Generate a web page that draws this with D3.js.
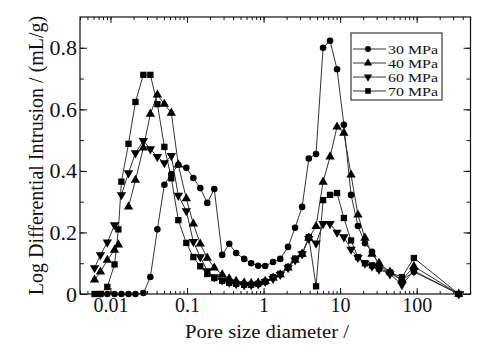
<!DOCTYPE html>
<html>
<head>
<meta charset="utf-8">
<script src="https://cdn.jsdelivr.net/npm/d3@7"></script>
<style>
  html, body { margin: 0; padding: 0; background: #fff; }
  svg { display: block; }
  svg text { font-family: "Liberation Serif", "DejaVu Serif", serif; fill: #111; }
</style>
</head>
<body>
<svg id="chart" width="500" height="349"></svg>
<script>
// Pore size diameters (µm) shared by all series
const poreSize = [0.0062, 0.0074, 0.0091, 0.0113, 0.0127, 0.0139, 0.0172, 0.0212, 0.0269, 0.0332,
  0.0410, 0.0506, 0.0624, 0.0770, 0.0979, 0.121, 0.149, 0.184, 0.227, 0.288,
  0.356, 0.439, 0.558, 0.689, 0.851, 1.05, 1.33, 1.65, 2.09, 2.58,
  3.19, 3.90, 4.85, 5.99, 7.39, 9.12, 11.2, 13.9, 17.1, 21.1,
  26.1, 32.2, 44.8, 64.2, 92.0, 355];

// Log differential intrusion (mL/g) per compaction pressure; null = no measurement
const mpa30 = [null, 0, 0, 0, null, 0, 0, 0, 0.003, 0.055,
  0.21, 0.355, 0.39, 0.42, 0.41, 0.377, 0.344, 0.296, 0.341, 0.127,
  0.163, 0.133, 0.114, 0.10, 0.092, 0.091, 0.104, 0.114, 0.153, 0.215,
  0.283, 0.44, 0.455, 0.80, 0.823, 0.73, 0.55, 0.322, 0.221, 0.165,
  0.137, 0.095, 0.068, 0.045, 0.072, 0];
const mpa40 = [0.046, 0.072, 0.11, 0.143, 0.16, null, 0.283, 0.37, 0.475, 0.585,
  0.647, 0.617, 0.588, 0.42, 0.31, 0.228, 0.163, 0.117, 0.085, 0.063,
  0.05, 0.042, 0.037, 0.035, 0.036, 0.042, 0.052, 0.063, 0.085, 0.11,
  0.13, 0.182, 0.22, 0.364, 0.446, 0.543, 0.523, 0.387, 0.257, 0.182,
  0.13, 0.10, 0.072, 0.045, 0.09, 0];
const mpa60 = [0.085, 0.127, 0.168, 0.224, null, 0.322, 0.393, 0.458, 0.498, 0.471,
  0.446, 0.426, 0.449, 0.32, 0.27, 0.17, 0.12, 0.075, 0.055, 0.045,
  0.038, 0.033, 0.03, 0.03, 0.032, 0.04, 0.05, 0.063, 0.085, 0.11,
  0.13, 0.18, 0.165, 0.228, 0.228, 0.20, 0.185, 0.145, 0.118, 0.10,
  0.09, 0.08, 0.065, 0.03, 0.075, 0];
const mpa70 = [0, 0, 0.023, 0.096, 0.21, 0.365, 0.488, 0.624, 0.712, 0.712,
  0.617, 0.478, 0.376, 0.24, 0.166, 0.12, 0.09, 0.065, 0.052, 0.043,
  0.036, 0.033, 0.03, 0.03, 0.033, 0.04, 0.055, 0.065, 0.088, 0.115,
  0.13, 0.185, 0.025, 0.305, 0.322, 0.328, 0.247, 0.174, 0.12, 0.10,
  0.093, 0.083, 0.07, 0.055, 0.117, 0];

const seriesNames = ["30 MPa", "40 MPa", "60 MPa", "70 MPa"];
const xTickValues = [0.01, 0.1, 1, 10, 100];
const xTickLabels = ["0.01", "0.1", "1", "10", "100"];
const yTickValues = [0, 0.2, 0.4, 0.6, 0.8];
const yTickLabels = ["0", "0.2", "0.4", "0.6", "0.8"];

const series = [
  { name: seriesNames[0], values: mpa30, symbol: d3.symbolCircle, size: 34, rotate: 0 },
  { name: seriesNames[1], values: mpa40, symbol: d3.symbolTriangle, size: 38, rotate: 0 },
  { name: seriesNames[2], values: mpa60, symbol: d3.symbolTriangle, size: 38, rotate: 180 },
  { name: seriesNames[3], values: mpa70, symbol: d3.symbolSquare, size: 40, rotate: 0 }
];

const serif = '"Liberation Serif", "DejaVu Serif", serif';
const svg = d3.select("#chart");
const plot = { left: 80, right: 470.5, top: 17, bottom: 294 };

const x = d3.scaleLog().domain([0.004, 505]).range([plot.left, plot.right]);
const y = d3.scaleLinear().domain([0, 0.9]).range([plot.bottom, plot.top]);

// minor ticks for log axis: 1..9 per decade within domain
const minorX = [];
for (let e = -3; e <= 2; e++) {
  for (let k = 1; k <= 9; k++) {
    const v = k * Math.pow(10, e);
    if (v >= 0.004 && v <= 505) minorX.push(v);
  }
}
const minorY = d3.range(0, 0.9, 0.1).map(v => +v.toFixed(2));

const axisColor = "#111";

// bottom axis (ticks inward)
const gBottom = svg.append("g").attr("transform", `translate(0,${plot.bottom})`);
gBottom.call(d3.axisBottom(x).tickValues(minorX).tickSize(-3).tickFormat(""));
gBottom.append("g").call(d3.axisBottom(x).tickValues(xTickValues).tickSize(-6)
  .tickFormat((d, i) => xTickLabels[i]).tickPadding(4));
// top axis
const gTop = svg.append("g").attr("transform", `translate(0,${plot.top})`);
gTop.call(d3.axisTop(x).tickValues(minorX).tickSize(-3).tickFormat(""));
gTop.append("g").call(d3.axisTop(x).tickValues(xTickValues).tickSize(-6).tickFormat(""));
// left axis
const gLeft = svg.append("g").attr("transform", `translate(${plot.left},0)`);
gLeft.call(d3.axisLeft(y).tickValues(minorY).tickSize(-4).tickFormat(""));
gLeft.append("g").call(d3.axisLeft(y).tickValues(yTickValues).tickSize(-7)
  .tickFormat((d, i) => yTickLabels[i]).tickPadding(3));
// right axis
const gRight = svg.append("g").attr("transform", `translate(${plot.right},0)`);
gRight.call(d3.axisRight(y).tickValues(minorY).tickSize(-4).tickFormat(""));
gRight.append("g").call(d3.axisRight(y).tickValues(yTickValues).tickSize(-7).tickFormat(""));

svg.selectAll("g").attr("font-family", serif);
svg.selectAll(".domain").remove();
svg.selectAll(".tick line").attr("stroke", axisColor).attr("stroke-width", 1);
gBottom.selectAll("text").attr("font-size", 20).attr("fill", "#111").attr("font-family", serif);
gLeft.selectAll("text").attr("font-size", 22).attr("fill", "#111").attr("font-family", serif);

// frame
svg.append("rect")
  .attr("x", plot.left).attr("y", plot.top)
  .attr("width", plot.right - plot.left).attr("height", plot.bottom - plot.top)
  .attr("fill", "none").attr("stroke", axisColor).attr("stroke-width", 1.2);

// series lines and markers
const line = d3.line()
  .defined(d => d.v !== null)
  .x(d => x(d.d)).y(d => y(d.v));

series.forEach(s => {
  const pts = poreSize.map((d, i) => ({ d, v: s.values[i] }));
  svg.append("path").datum(pts)
    .attr("d", line)
    .attr("fill", "none").attr("stroke", "#333").attr("stroke-width", 1);
});
series.forEach(s => {
  const pts = poreSize.map((d, i) => ({ d, v: s.values[i] })).filter(p => p.v !== null);
  const sym = d3.symbol().type(s.symbol).size(s.size);
  svg.append("g").selectAll("path").data(pts).join("path")
    .attr("d", sym)
    .attr("transform", p => `translate(${x(p.d)},${y(p.v)}) rotate(${s.rotate})`)
    .attr("fill", "#000");
});

// legend
const lg = svg.append("g");
lg.append("rect").attr("x", 351).attr("y", 33).attr("width", 91).attr("height", 67)
  .attr("fill", "#fff").attr("stroke", axisColor).attr("stroke-width", 1);
series.forEach((s, i) => {
  const ly = 49 + i * 14;
  lg.append("line").attr("x1", 353).attr("x2", 386).attr("y1", ly).attr("y2", ly)
    .attr("stroke", "#333").attr("stroke-width", 1);
  lg.append("path").attr("d", d3.symbol().type(s.symbol).size(s.size * 0.8))
    .attr("transform", `translate(368,${ly}) rotate(${s.rotate})`).attr("fill", "#000");
  lg.append("text").attr("x", 388).attr("y", ly + 4.5)
    .attr("font-family", serif).attr("font-size", 13.5)
    .attr("textLength", 50).attr("lengthAdjust", "spacingAndGlyphs")
    .text(s.name);
});

// axis titles
svg.append("text")
  .attr("x", 267).attr("y", 338)
  .attr("text-anchor", "middle").attr("font-family", serif).attr("font-size", 19)
  .attr("textLength", 164).attr("lengthAdjust", "spacingAndGlyphs")
  .text("Pore size diameter /");
svg.append("text")
  .attr("transform", `translate(43,${(plot.top + plot.bottom) / 2}) rotate(-90)`)
  .attr("text-anchor", "middle").attr("font-family", serif).attr("font-size", 20)
  .text("Log Differential Intrusion / (mL/g)");
</script>
</body>
</html>
